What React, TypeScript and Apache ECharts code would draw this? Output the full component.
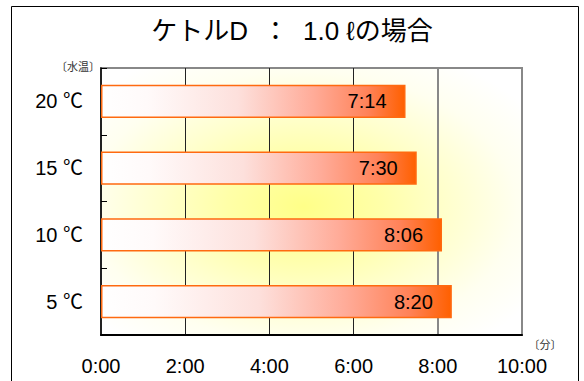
import React, { useEffect, useRef } from "react";
import * as echarts from "echarts";

// Water temperature categories (top to bottom) and boiling times (m:ss)
const categories = ["20 ℃", "15 ℃", "10 ℃", "5 ℃"];
const timeLabels = ["7:14", "7:30", "8:06", "8:20"];
const xTickLabels = ["0:00", "2:00", "4:00", "6:00", "8:00", "10:00"];
const titleText = "ケトルD  ：  1.0 ℓの場合";
const yUnit = "〔水温〕";
const xUnit = "〔分〕";

const FONT = "'Liberation Sans', 'Noto Sans CJK JP', sans-serif";
const CJK_FONT = "'Noto Sans CJK JP', sans-serif";

const toMinutes = (s: string) => {
  const [m, sec] = s.split(":").map(Number);
  return m + sec / 60;
};

export default function App() {
  const ref = useRef<HTMLDivElement>(null);

  useEffect(() => {
    if (!ref.current) return;
    const chart = echarts.init(ref.current, undefined, { renderer: "svg" });

    const values = timeLabels.map(toMinutes);

    const barGradient = new echarts.graphic.LinearGradient(0, 0, 1, 0, [
      { offset: 0, color: "#ffffff" },
      { offset: 0.15, color: "#fffafa" },
      { offset: 0.45, color: "#fde0dc" },
      { offset: 0.7, color: "#ffab98" },
      { offset: 0.88, color: "#ff8258" },
      { offset: 1, color: "#ff6000" },
    ]);

    const glow = new echarts.graphic.RadialGradient(0.48, 0.52, 0.65, [
      { offset: 0, color: "#ffff88" },
      { offset: 0.28, color: "#ffffa8" },
      { offset: 0.52, color: "#ffffcc" },
      { offset: 0.78, color: "#fffff0" },
      { offset: 1, color: "#ffffff" },
    ]);

    chart.setOption({
      animation: false,
      backgroundColor: "#ffffff",
      textStyle: { fontFamily: FONT },
      title: {
        text: titleText,
        left: "center",
        top: 13,
        textStyle: {
          fontFamily: FONT,
          fontSize: 26,
          fontWeight: "normal",
          color: "#000",
        },
      },
      grid: {
        left: 101,
        right: 62,
        top: 68,
        bottom: 46,
        show: true,
        backgroundColor: glow,
        borderColor: "#888",
        borderWidth: 2,
      },
      xAxis: [
        {
          type: "value",
          min: 0,
          max: 10,
          interval: 2,
          axisLine: { show: true, lineStyle: { color: "#000", width: 2 } },
          axisTick: { show: false },
          axisLabel: {
            margin: 21,
            fontSize: 20,
            color: "#000",
            fontFamily: FONT,
            formatter: (v: number) => xTickLabels[Math.round(v / 2)] ?? "",
          },
          splitLine: {
            show: true,
            lineStyle: {
              color: [
                "rgba(0,0,0,0)",
                "#222",
                "#222",
                "#222",
                "rgba(0,0,0,0)",
                "rgba(0,0,0,0)",
              ],
              width: 1,
            },
          },
        },
        {
          // grey major lines at 8:00 and the right edge
          type: "value",
          position: "top",
          min: 0,
          max: 10,
          interval: 2,
          axisLine: { show: false },
          axisTick: { show: false },
          axisLabel: { show: false },
          splitLine: {
            show: true,
            lineStyle: {
              color: [
                "rgba(0,0,0,0)",
                "rgba(0,0,0,0)",
                "rgba(0,0,0,0)",
                "rgba(0,0,0,0)",
                "#888",
                "#888",
              ],
              width: 2,
            },
          },
        },
      ],
      yAxis: {
        type: "category",
        data: categories,
        inverse: true,
        axisLine: { show: true, lineStyle: { color: "#000", width: 1.5 } },
        axisTick: {
          show: true,
          inside: true,
          length: 6,
          lineStyle: { color: "#000", width: 1 },
        },
        axisLabel: {
          margin: 18,
          fontSize: 20,
          color: "#000",
          fontFamily: FONT,
        },
        splitLine: { show: false },
      },
      series: [
        {
          type: "bar",
          xAxisIndex: 0,
          data: values,
          barWidth: "50%",
          itemStyle: {
            color: barGradient,
            borderColor: "#ff6a10",
            borderWidth: 1.5,
          },
          label: {
            show: true,
            position: "insideRight",
            distance: 19,
            fontSize: 20,
            color: "#000",
            fontFamily: FONT,
            formatter: (p: any) => timeLabels[p.dataIndex],
          },
        },
      ],
      graphic: [
        {
          type: "rect",
          silent: true,
          z: -10,
          shape: { x: 11.5, y: 6.5, width: 567, height: 400 },
          style: { fill: "none", stroke: "#000", lineWidth: 1 },
        },
        {
          type: "text",
          x: 78,
          y: 66,
          style: {
            text: yUnit,
            fontSize: 11,
            fill: "#333",
            fontFamily: CJK_FONT,
            align: "center",
            verticalAlign: "middle",
          },
        },
        {
          type: "text",
          x: 545,
          y: 344,
          style: {
            text: xUnit,
            fontSize: 11,
            fill: "#333",
            fontFamily: CJK_FONT,
            align: "center",
            verticalAlign: "middle",
          },
        },
      ],
    });

    return () => chart.dispose();
  }, []);

  return (
    <div
      ref={ref}
      style={{ position: "fixed", left: 0, top: 0, width: 584, height: 381 }}
    />
  );
}
